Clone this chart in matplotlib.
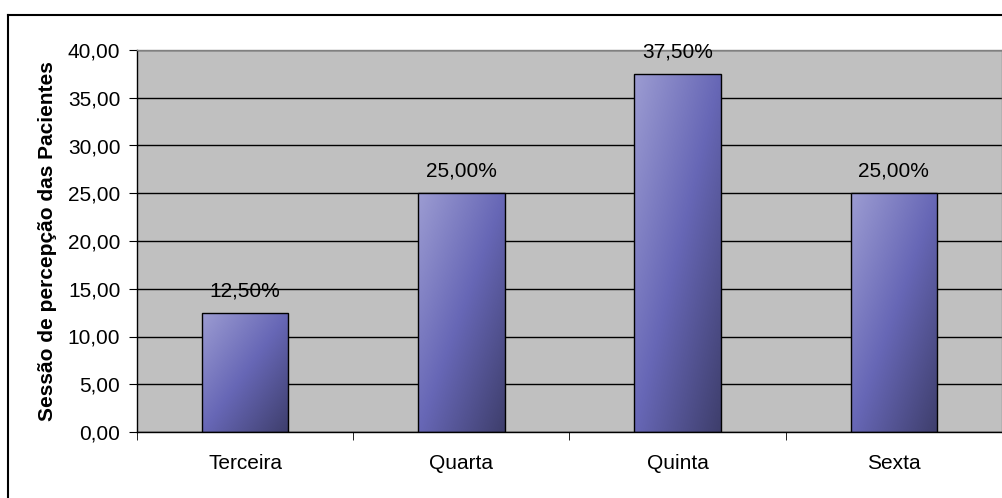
import numpy as np
import matplotlib
matplotlib.use('Agg')
from matplotlib import pyplot
from matplotlib.colors import LinearSegmentedColormap
from matplotlib.lines import Line2D

categories = ['Terceira', 'Quarta', 'Quinta', 'Sexta']
values = [12.5, 25.0, 37.5, 25.0]
y_ticks = [0, 5, 10, 15, 20, 25, 30, 35, 40]
y_label = 'Sessão de percepção das Pacientes'

pyplot.rcParams['font.family'] = ['Liberation Sans', 'DejaVu Sans']


def br(v, digits=2):
    return f'{v:.{digits}f}'.replace('.', ',')


fig = pyplot.figure(figsize=(10.03, 4.98), dpi=100)
ax = fig.add_axes([137 / 1003, 66 / 498, 865 / 1003, 382 / 498])
ax.set_facecolor('#c0c0c0')

x = np.arange(len(categories))
bars = ax.bar(x, values, width=0.4, color='none', edgecolor='black', linewidth=1.0, zorder=3)

# diagonal gradient, light top-left to dark bottom-right
cmap = LinearSegmentedColormap.from_list('bar', ['#9c9cd2', '#6767b6', '#3e3e6c'])
u = np.linspace(0, 1, 100)
v = np.linspace(0, 1, 200)  # row 0 is the top of the bar
uu, vv = np.meshgrid(u, v)
grad = (uu + vv) / 2
for b in bars:
    x0 = b.get_x()
    im = ax.imshow(grad, cmap=cmap, vmin=0, vmax=1, aspect='auto',
                   extent=(x0, x0 + b.get_width(), 0, b.get_height()),
                   zorder=2, interpolation='bilinear')
    im.set_clip_path(b)

for xi, val in zip(x, values):
    ax.annotate(br(val) + '%', (xi, val), xytext=(0, 9), textcoords='offset points',
                ha='center', va='bottom', fontsize=15, color='black')

ax.set_xlim(-0.5, len(categories) - 0.5)
ax.set_ylim(0, 40)
ax.set_yticks(y_ticks)
ax.set_yticklabels([br(t) for t in y_ticks], fontsize=15)
ax.yaxis.grid(True, color='black', linewidth=1.0, zorder=1)
ax.set_axisbelow(True)

ax.set_xticks(x)
ax.set_xticklabels(categories, fontsize=15)
ax.set_xticks(np.arange(-0.5, len(categories)), minor=True)
ax.tick_params(axis='x', which='major', length=0, pad=16)
ax.tick_params(axis='x', which='minor', length=6, direction='out', color='black')
ax.tick_params(axis='y', length=6, direction='out', color='black', pad=6)

ax.spines['left'].set_color('black')
ax.spines['bottom'].set_color('black')
ax.spines['top'].set_color('#808080')
ax.spines['right'].set_color('#808080')
for s in ax.spines.values():
    s.set_linewidth(1.0)

ax.set_ylabel(y_label, fontsize=15, fontweight='bold', labelpad=8)

# outer chart border (cropped at right/bottom)
fig.add_artist(Line2D([8 / 1003, 8 / 1003], [0, 1 - 15 / 498], transform=fig.transFigure,
                      color='black', linewidth=1.5))
fig.add_artist(Line2D([8 / 1003, 1], [1 - 15 / 498, 1 - 15 / 498], transform=fig.transFigure,
                      color='black', linewidth=1.5))

fig.savefig('out.png', dpi=100)
